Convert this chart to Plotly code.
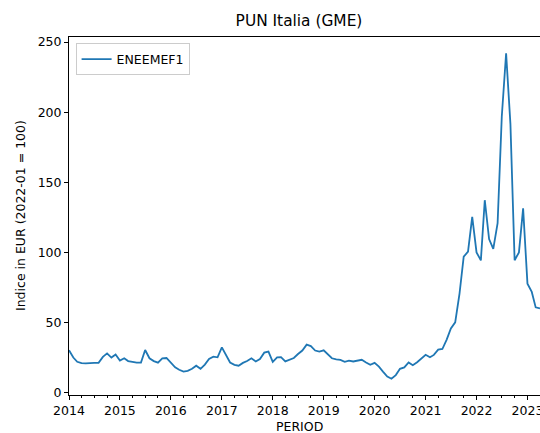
import pandas as pd
import plotly.graph_objects as go

# Monthly PUN index, 2022-01 = 100
start_month = "2014-01"
values_2014 = [30.2, 25.0, 22.0, 21.0, 20.8, 21.2, 21.2, 21.2, 25.5, 28.0, 25.0, 27.2]
values_2015 = [22.8, 24.5, 22.5, 22.0, 21.4, 21.4, 30.4, 24.5, 22.5, 21.4, 24.5, 24.7]
values_2016 = [21.5, 18.0, 16.3, 15.0, 15.5, 17.0, 19.2, 17.0, 20.0, 24.0, 25.6, 25.2]
values_2017 = [32.3, 26.0, 21.5, 19.8, 19.2, 21.2, 22.5, 24.5, 22.2, 24.0, 28.5, 29.3]
values_2018 = [22.0, 25.2, 25.3, 22.3, 23.5, 24.7, 27.5, 30.0, 34.2, 33.2, 30.0, 29.3]
values_2019 = [30.2, 27.0, 24.5, 23.7, 23.3, 22.0, 22.8, 22.2, 22.8, 23.4, 21.5, 19.8]
values_2020 = [21.2, 18.5, 15.0, 11.5, 9.9, 12.5, 17.0, 18.0, 21.5, 19.5, 21.7, 24.0]
values_2021 = [27.0, 25.2, 26.9, 30.7, 31.1, 37.8, 45.7, 50.1, 70.6, 96.9, 100.6, 125.3]
values_2022 = [100.0, 94.3, 137.2, 109.5, 102.5, 120.8, 196.7, 242.0, 191.5, 94.4, 100.0, 131.4]
values_2023 = [77.7, 71.8, 60.8, 60.1]

values = (values_2014 + values_2015 + values_2016 + values_2017 + values_2018
          + values_2019 + values_2020 + values_2021 + values_2022 + values_2023)
periods = pd.date_range(start_month + "-01", periods=len(values), freq="MS")

year_ticks = [str(y) for y in range(2014, 2024)]

W, H = 540, 433
L, R, T, B = 69, 0, 37, 38

font = "DejaVu Sans, Verdana, sans-serif"

fig = go.Figure()
fig.add_trace(go.Scatter(
    x=periods, y=values, mode="lines", name="ENEEMEF1",
    line=dict(color="#1f77b4", width=1.8),
))

fig.update_layout(
    width=W, height=H,
    margin=dict(l=L, r=R, t=T, b=B),
    paper_bgcolor="white", plot_bgcolor="white",
    font=dict(family=font, size=12.5, color="black"),
    showlegend=True,
    legend=dict(
        x=0.014, y=0.982, xanchor="left", yanchor="top",
        bgcolor="rgba(255,255,255,0.8)", bordercolor="#cccccc", borderwidth=1,
        font=dict(family=font, size=12.5, color="black"),
        itemwidth=30, tracegroupgap=0,
    ),
    title=dict(
        text="PUN Italia (GME)", x=299 / W, xanchor="center",
        y=1 - 21 / H, yanchor="middle", xref="container", yref="container",
        font=dict(family=font, size=15.4, color="black"),
    ),
)

fig.update_xaxes(
    range=[periods[0], periods[-1]],
    tickvals=[pd.Timestamp(y + "-01-01") for y in year_ticks],
    ticktext=year_ticks,
    ticklabeloverflow="allow", automargin=False,
    ticks="outside", ticklen=4, tickwidth=1, tickcolor="black",
    showline=True, linecolor="black", linewidth=1, mirror=True,
    showgrid=False, zeroline=False,
    minor=dict(dtick="M3", ticks="outside", ticklen=2, tickwidth=1,
               tickcolor="black", showgrid=False),
    tickfont=dict(family=font, size=12.5, color="black"),
)
fig.update_yaxes(
    range=[-1.7, 253.6],
    tickvals=[0, 50, 100, 150, 200, 250],
    automargin=False,
    ticks="outside", ticklen=4, tickwidth=1, tickcolor="black",
    showline=True, linecolor="black", linewidth=1, mirror=False,
    showgrid=False, zeroline=False,
    tickfont=dict(family=font, size=12.5, color="black"),
)

# Axis titles
fig.add_annotation(
    text="PERIOD", xref="paper", yref="paper",
    x=(299 - L) / (W - L - R), y=-(427 - (H - B)) / (H - T - B),
    xanchor="center", yanchor="middle", showarrow=False,
    font=dict(family=font, size=12.5, color="black"),
)
fig.add_annotation(
    text="Indice in EUR (2022-01 = 100)", xref="paper", yref="paper",
    x=-(L - 20) / (W - L - R), y=0.5, textangle=-90,
    xanchor="center", yanchor="middle", showarrow=False,
    font=dict(family=font, size=12.5, color="black"),
)

fig.write_html("out.html")
